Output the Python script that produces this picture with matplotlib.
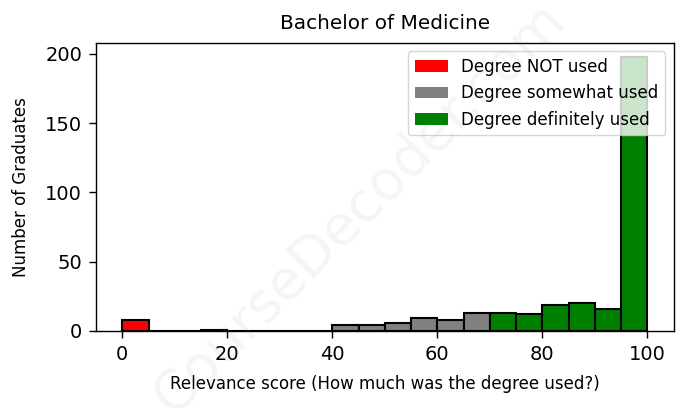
import matplotlib.pyplot as plt
import numpy as np
from matplotlib.patches import Patch

# bin left edges (width 5) and graduate counts
bin_left = np.arange(0, 100, 5)
counts = [8, 0, 0, 1, 0, 0, 0, 0, 4, 4, 6, 9, 8, 13, 13, 12, 19, 20, 16, 198]

not_used_max = 40      # below this: degree NOT used
somewhat_max = 70      # below this: degree somewhat used

labels = ['Degree NOT used', 'Degree somewhat used', 'Degree definitely used']
colors = ['red', 'grey', 'green']

bin_left = np.array(bin_left)
counts = np.array(counts)

fig, ax = plt.subplots(figsize=(6.91, 4.08), dpi=100)

masks = [bin_left < not_used_max,
         (bin_left >= not_used_max) & (bin_left < somewhat_max),
         bin_left >= somewhat_max]
for m, c in zip(masks, colors):
    ax.bar(bin_left[m], counts[m], width=5, align='edge', color=c,
           edgecolor='black', linewidth=1.5)

ax.set_xlim(-5, 105)
ax.set_ylim(0, counts.max() * 1.05)
ax.set_xticks([0, 20, 40, 60, 80, 100])
ax.tick_params(labelsize=14, width=1.0, length=5, pad=5)
for s in ax.spines.values():
    s.set_linewidth(1.0)

ax.set_title('Bachelor of Medicine', fontsize=14.4, pad=10)
ax.set_xlabel('Relevance score (How much was the degree used?)', fontsize=12,
              labelpad=8)
ax.set_ylabel('Number of Graduates', fontsize=12, labelpad=11)
handles = [Patch(facecolor=c, label=l) for c, l in zip(colors, labels)]
ax.legend(handles=handles, loc='upper right', fontsize=12)

# watermark
fig.text(0.52, 0.49, 'CourseDecoder.com', fontsize=40, color='grey',
         alpha=0.08, rotation=45, ha='center', va='center')

fig.subplots_adjust(left=0.139, right=0.975, top=0.895, bottom=0.189)
fig.savefig('out.png', dpi=100)
